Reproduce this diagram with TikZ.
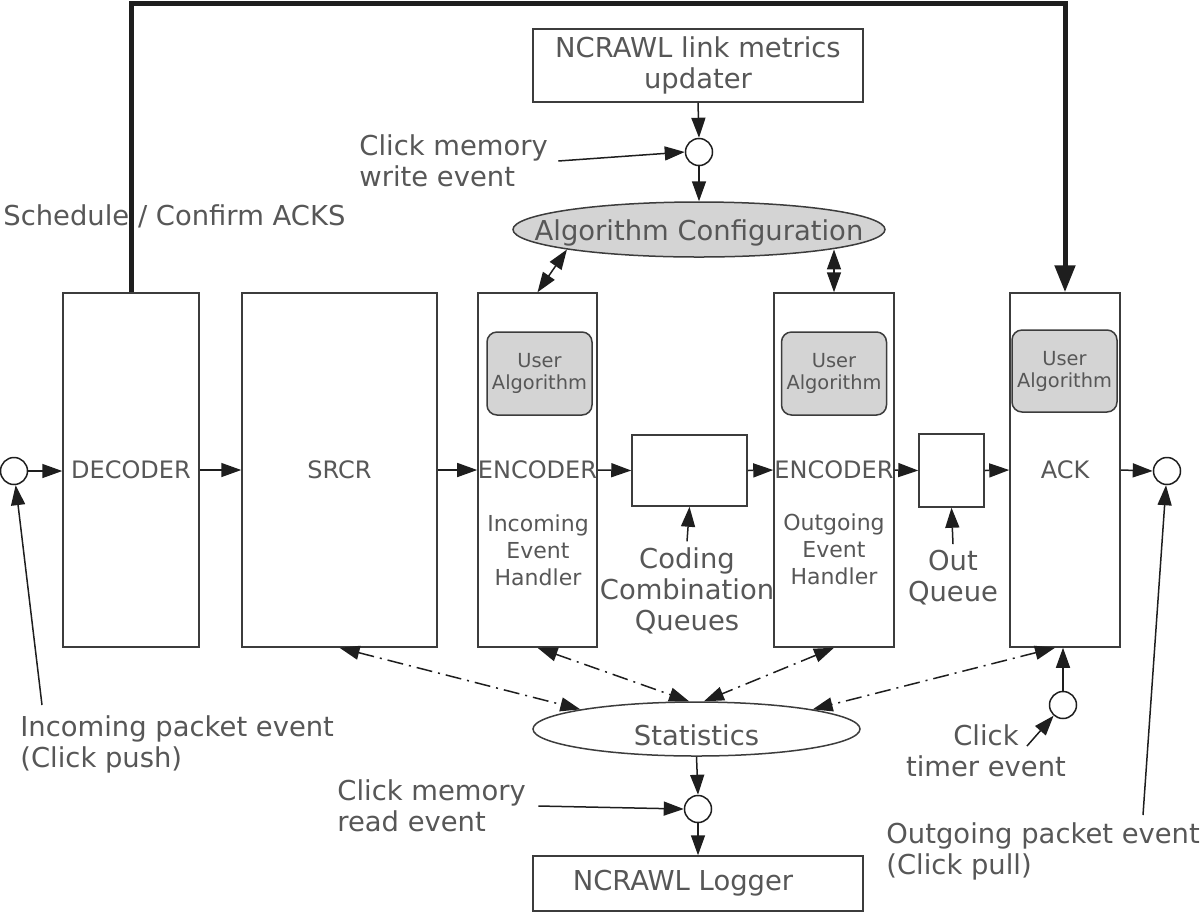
\documentclass[tikz,border=0pt]{standalone}
\usepackage{fontspec}
\setmainfont{DejaVu Sans}
\usepackage{xcolor}
\usetikzlibrary{shapes.geometric,arrows.meta}
\definecolor{txtgray}{HTML}{575757}
\definecolor{linegray}{HTML}{3C3C3C}
\definecolor{fillgray}{HTML}{D4D4D4}
\definecolor{arrblack}{HTML}{1E1E1E}

\begin{document}
\begin{tikzpicture}[x=0.5pt,y=-0.5pt,
  >={Triangle[length=10pt,width=7pt]},
  every node/.style={text=txtgray},
  bigtxt/.style={font=\fontsize{13.7}{15.5}\selectfont},
  blk/.style={draw=linegray,line width=0.75pt,inner sep=0pt,fill=white},
  tall/.style={blk,minimum height=177pt,font=\fontsize{12}{14}\selectfont},
  usr/.style={blk,fill=fillgray,rounded corners=5pt,minimum width=52.5pt,minimum height=41.5pt,align=center,font=\fontsize{9.7}{11}\selectfont},
  hnd/.style={inner sep=0pt,align=center,font=\fontsize{11}{13.5}\selectfont},
  evt/.style={circle,draw=arrblack,line width=0.75pt,minimum size=13.5pt,inner sep=0pt,fill=white},
  oval/.style={ellipse,draw=linegray,line width=0.75pt,inner sep=0pt},
  lbl/.style={bigtxt,inner sep=0pt,align=left},
  conn/.style={->,arrblack,line width=0.75pt},
  dd/.style={<->,arrblack,line width=0.75pt,dash pattern=on 8pt off 3pt on 1pt off 3pt},
  bus/.style={arrblack,line width=2.5pt,-{Triangle[length=13.5pt,width=10pt]}}]
\useasboundingbox (0,0) rectangle (1200,912);

% processing chain
\node[tall,minimum width=68pt] (dec) at (131,470) {DECODER};
\node[tall,minimum width=97.5pt] (srcr) at (339.5,470) {SRCR};
\node[tall,minimum width=59.5pt] (enc1) at (537.5,470) {ENCODER};
\node[tall,minimum width=60pt] (enc2) at (834,470) {ENCODER};
\node[tall,minimum width=55pt] (ack) at (1065,470) {ACK};
\node[blk,minimum width=57.5pt,minimum height=35.5pt] (cod) at (689.5,470.5) {};
\node[blk,minimum width=32.5pt,minimum height=36.5pt] (oq) at (951.5,470.5) {};

\node[usr] (usr1) at (539.5,373.5) {User\\Algorithm};
\node[usr] (usr2) at (834,373.5) {User\\Algorithm};
\node[usr,minimum height=41pt] (usr3) at (1064.5,371) {User\\Algorithm};
\node[hnd] (inh) at (538,550) {Incoming\\Event\\Handler};
\node[hnd] (outh) at (834,549) {Outgoing\\Event\\Handler};

% events
\node[evt] (cin) at (14,471) {};
\node[evt] (cout) at (1167,471) {};
\node[evt] (cwr) at (699,152) {};
\node[evt] (crd) at (698,809) {};
\node[evt] (ctm) at (1063,705) {};

% upper and lower blocks
\node[blk,bigtxt,align=center,minimum width=165pt,minimum height=36.5pt] (upd) at (698,65.5) {NCRAWL link metrics\\updater};
\node[oval,fill=fillgray,minimum width=186pt,minimum height=27.5pt,
  label={[bigtxt,yshift=-1.5pt]center:Algorithm Configuration}] (algconf) at (699,229.5) {};
\node[oval,fill=white,minimum width=163.5pt,minimum height=27pt,
  label={[bigtxt,yshift=-3pt]center:Statistics}] (stats) at (696.5,729) {};
\node[blk,bigtxt,minimum width=165pt,minimum height=27.5pt] (logger) at (698,883.5) {NCRAWL Logger\hspace*{15pt}};

% labels
\node[lbl,anchor=west] (sched) at (3,216) {Schedule / Confirm ACKS};
\node[lbl,anchor=west] (wrlbl) at (359,161) {Click memory\\write event};
\node[lbl,anchor=west] (rdlbl) at (337,806) {Click memory\\read event};
\node[lbl,anchor=west] (inlbl) at (20,744) {Incoming packet event\\(Click push)};
\node[lbl,anchor=west] (outlbl) at (886,851) {Outgoing packet event\\(Click pull)};
\node[lbl,align=center] (tmlbl) at (986,751) {Click\\timer event};
\node[lbl,align=center] (codlbl) at (687,591) {Coding\\Combination\\Queues};
\node[lbl,align=center] (oqlbl) at (953,578) {Out\\Queue};
\coordinate (inend) at (42,705);
\coordinate (outend) at (1143,815);
\coordinate (tmend) at (1027,746);
\coordinate (bus) at (600,3);

% connectors
\draw[conn] (cin.east) -- (cin.east -| dec.west);
\foreach \a/\b in {dec/srcr,srcr/enc1,enc1/cod,cod/enc2,enc2/oq,oq/ack}
  \draw[conn] (\a.east) -- (\b.west);
\draw[conn] (ack.east) -- (cout.west);
\draw[conn] (upd.south) -- (cwr.north);
\draw[conn] (cwr.south) -- (algconf.north);
\draw[conn] (stats.south) -- (crd.north);
\draw[conn] (crd.south) -- (logger.north);
\draw[conn] (ctm.north) -- (ctm.north |- ack.south);
\draw[conn] ([xshift=5pt]wrlbl.east) -- (cwr.west);
\draw[conn] ([xshift=6pt]rdlbl.east) -- (crd.west);
\draw[conn] (inend) -- (cin);
\draw[conn] (outend) -- (cout);
\draw[conn] (tmend) -- (ctm);
\draw[conn] ([yshift=3pt]codlbl.north) -- (cod.south);
\draw[conn] ([yshift=3pt]oqlbl.north) -- (oq.south);

\draw[dd] (algconf.south west) -- (enc1.north);
\draw[dd] (algconf.south east -| enc2.north) -- (enc2.north);
\draw[dd] (srcr.south) -- (stats.north west);
\draw[dd] (enc1.south) -- (stats.105);
\draw[dd] (enc2.south) -- (stats.75);
\draw[dd] ([xshift=-5pt]ack.south) -- (stats.north east);

\draw[bus] (dec.north) |- (bus) -| (ack.north);
\end{tikzpicture}
\end{document}
